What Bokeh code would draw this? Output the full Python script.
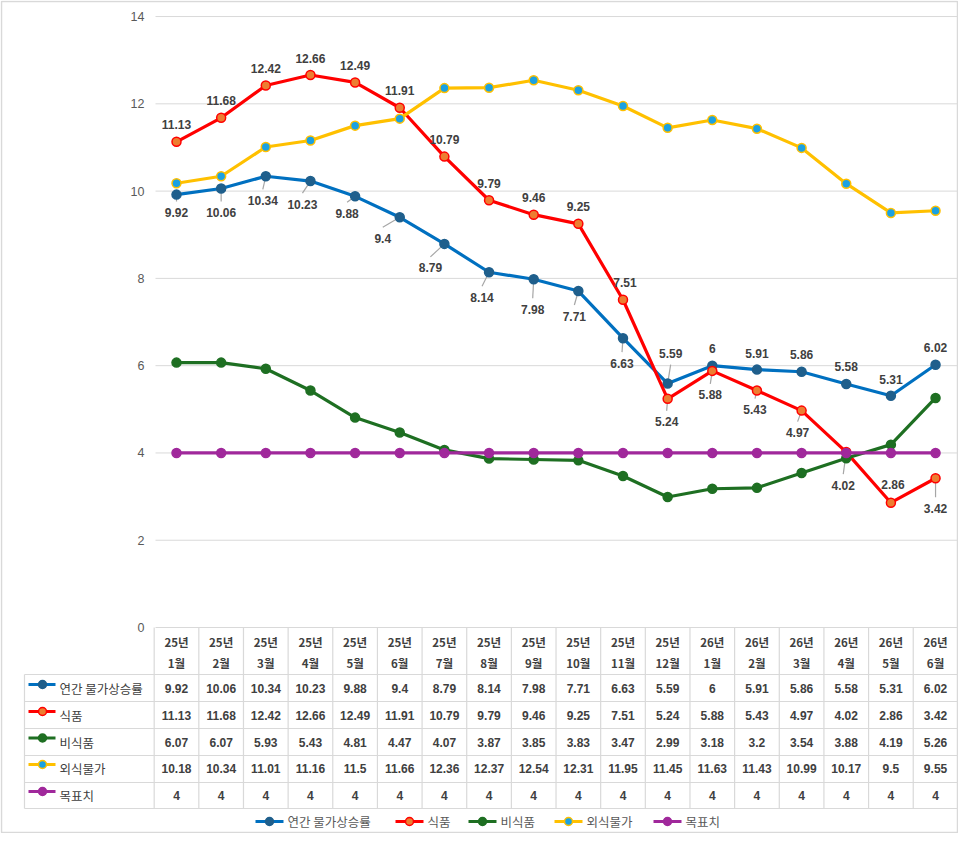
import numpy as np
from bokeh.plotting import figure
from bokeh.models import Range1d
from bokeh.core.properties import value
from bokeh.embed import file_html
from bokeh.resources import INLINE

# ---------------- data ----------------
years = ["25년"] * 12 + ["26년"] * 6
months = ["1월", "2월", "3월", "4월", "5월", "6월", "7월", "8월", "9월", "10월", "11월", "12월",
          "1월", "2월", "3월", "4월", "5월", "6월"]
series_names = ["연간 물가상승률", "식품", "비식품", "외식물가", "목표치"]
annual = [9.92, 10.06, 10.34, 10.23, 9.88, 9.4, 8.79, 8.14, 7.98, 7.71, 6.63, 5.59,
          6, 5.91, 5.86, 5.58, 5.31, 6.02]
food = [11.13, 11.68, 12.42, 12.66, 12.49, 11.91, 10.79, 9.79, 9.46, 9.25, 7.51, 5.24,
        5.88, 5.43, 4.97, 4.02, 2.86, 3.42]
nonfood = [6.07, 6.07, 5.93, 5.43, 4.81, 4.47, 4.07, 3.87, 3.85, 3.83, 3.47, 2.99,
           3.18, 3.2, 3.54, 3.88, 4.19, 5.26]
dining = [10.18, 10.34, 11.01, 11.16, 11.5, 11.66, 12.36, 12.37, 12.54, 12.31, 11.95, 11.45,
          11.63, 11.43, 10.99, 10.17, 9.5, 9.55]
target = [4] * 18
y_ticks = [0, 2, 4, 6, 8, 10, 12, 14]

# ---------------- styles ----------------
line_colors = ["#0070C0", "#FF0000", "#1E6F22", "#FFC000", "#A0289B"]
marker_fill = ["#1F5F8C", "#ED7D31", "#1E6F22", "#1BA1E2", "#A0289B"]
marker_line = ["#1F5F8C", "#FF0000", "#1E6F22", "#FFC000", "#A0289B"]

# label offsets in screen pixels (relative to the point), leader flags
annual_dx = [0, 0, -3, -8, -8, -17, -14, -7, -1, -4, -1, 3, 0, 0, 0, 0, 0, 0]
annual_dy = [18, 24, 24, 23, 17, 21, 24, 25, 30, 25, 25, -30, -17, -16, -17, -17, -16, -17]
annual_lead = [1] * 12 + [0] * 6
food_dx = [0, 0, 0, 0, 0, 0, 0, 0, 0, 0, 2, -1, -2, -2, -4, -3, 2, 0]
food_dy = [-17] * 11 + [23, 24, 19, 22, 33, -18, 30]
food_lead = [0] * 11 + [1, 1, 1, 1, 1, 0, 1]

# ---------------- geometry ----------------
W, H = 958, 833
OFF = 0
X0_IMG, DX = 176.0, 44.65      # pixel x of first category, pixel per category
Y0_IMG, DY = 627.0, 43.64      # pixel y of value 0, pixel per unit


def ix(px):
    return (px - X0_IMG) / DX


def iy(py):
    return (Y0_IMG - py) / DY


p = figure(width=W, height=H, output_backend="svg", toolbar_location=None,
           x_range=Range1d(ix(OFF), ix(OFF + W)), y_range=Range1d(iy(OFF + H), iy(OFF)),
           x_axis_type=None, y_axis_type=None, min_border=0)
p.grid.visible = False
p.outline_line_color = None
p.background_fill_color = "white"

NUM_FONT = value("Liberation Sans")
KR_FONT = value("Noto Sans CJK KR")
GRID = "#D9D9D9"

# outer chart border
p.rect(x=[(ix(OFF) + ix(OFF + W)) / 2], y=[(iy(OFF) + iy(OFF + H)) / 2],
       width=[ix(OFF + W - 1) - ix(OFF + 1)], height=[iy(OFF + 1) - iy(OFF + H - 1)],
       fill_color=None, line_color=GRID, line_width=1.5)

n = len(annual)
xs = list(range(n))

# gridlines
gt = [t for t in y_ticks if t > 0]
p.segment(x0=[ix(155)] * len(gt), x1=[ix(958)] * len(gt), y0=gt, y1=gt,
          line_color=GRID, line_width=1)

# y tick labels
p.text(x=[ix(144)] * len(y_ticks), y=y_ticks, text=[str(t) for t in y_ticks],
       text_align="right", text_baseline="middle", text_font=NUM_FONT,
       text_font_size="12.5px", text_color="#595959")

# ---------------- table ----------------
col_left = ix(155)
col_right = ix(958)
label_left = ix(24)
row_edges_img = [674, 701, 728, 755, 782, 808]
h_x0 = [col_left] + [label_left] * len(row_edges_img)
h_x1 = [col_right] * (len(row_edges_img) + 1)
h_y = [iy(627)] + [iy(v) for v in row_edges_img]
p.segment(x0=h_x0, x1=h_x1, y0=h_y, y1=h_y, line_color=GRID, line_width=1.2)
v_x = [k - 0.5 for k in range(n + 1)]
p.segment(x0=v_x, x1=v_x, y0=[iy(627)] * len(v_x), y1=[iy(808)] * len(v_x),
          line_color=GRID, line_width=1.2)
p.segment(x0=[label_left], x1=[label_left], y0=[iy(674)], y1=[iy(808)],
          line_color=GRID, line_width=1.2)

# header
p.text(x=xs, y=[iy(641)] * n, text=years, text_align="center", text_baseline="middle",
       text_font=KR_FONT, text_font_style="bold", text_font_size="11.5px", text_color="#404040")
p.text(x=xs, y=[iy(662)] * n, text=months, text_align="center", text_baseline="middle",
       text_font=KR_FONT, text_font_style="bold", text_font_size="11.5px", text_color="#404040")


def fmt(v):
    return f"{v:g}"


all_series = [annual, food, nonfood, dining, target]
row_centers_img = [688, 715, 741.5, 768, 795]
for k, (vals, name) in enumerate(zip(all_series, series_names)):
    yc = iy(row_centers_img[k])
    p.text(x=xs, y=[yc] * n, text=[fmt(v) for v in vals], text_align="center",
           text_baseline="middle", text_font=NUM_FONT, text_font_style="bold",
           text_font_size="12px", text_color="#404040")
    # key
    yk = iy(row_centers_img[k] - 4)
    p.line(x=[ix(28), ix(55)], y=[yk, yk], line_color=line_colors[k], line_width=3)
    p.scatter(x=[ix(42)], y=[yk], size=8, fill_color=marker_fill[k],
              line_color=marker_line[k], line_width=1.5)
    p.text(x=[ix(59)], y=[iy(row_centers_img[k])], text=[name], text_align="left",
           text_baseline="middle", text_font=KR_FONT, text_font_size="12.5px",
           text_color="#404040")

# ---------------- leader lines ----------------
def leaders(vals, dxs, dys, flags):
    x0, y0, x1, y1 = [], [], [], []
    for i, (v, dx, dy, f) in enumerate(zip(vals, dxs, dys, flags)):
        if not f:
            continue
        s = 1 if dy > 0 else -1
        ex, ey = dx, dy - 11 * s
        x0.append(i + 0.0)
        y0.append(v)
        x1.append(i + ex / DX)
        y1.append(v - ey / DY)
    return x0, y0, x1, y1


for vals, dxs, dys, fl in [(annual, annual_dx, annual_dy, annual_lead),
                           (food, food_dx, food_dy, food_lead)]:
    a, b, c, d = leaders(vals, dxs, dys, fl)
    p.segment(x0=a, y0=b, x1=c, y1=d, line_color="#A6A6A6", line_width=1.2)

# ---------------- series ----------------
for k, vals in enumerate(all_series):
    p.line(x=xs, y=vals, line_color=line_colors[k], line_width=3.2)
    p.scatter(x=xs, y=vals, size=9, fill_color=marker_fill[k],
              line_color=marker_line[k], line_width=1.5)

# data labels
for vals, dxs, dys in [(annual, annual_dx, annual_dy), (food, food_dx, food_dy)]:
    p.text(x=xs, y=vals, text=[fmt(v) for v in vals], x_offset=dxs, y_offset=dys,
           text_align="center", text_baseline="middle", text_font=NUM_FONT,
           text_font_style="bold", text_font_size="12px", text_color="#404040")

# ---------------- legend ----------------
leg_x = [255, 395, 468, 554, 653]
leg_y = iy(821)
for k, name in enumerate(series_names):
    x0 = leg_x[k]
    p.line(x=[ix(x0), ix(x0 + 28)], y=[leg_y, leg_y], line_color=line_colors[k], line_width=3)
    p.scatter(x=[ix(x0 + 14)], y=[leg_y], size=8, fill_color=marker_fill[k],
              line_color=marker_line[k], line_width=1.5)
    p.text(x=[ix(x0 + 32)], y=[leg_y], text=[name], text_align="left", text_baseline="middle",
           text_font=KR_FONT, text_font_size="12.5px", text_color="#595959")

open("out.html", "w").write(file_html(p, INLINE))
